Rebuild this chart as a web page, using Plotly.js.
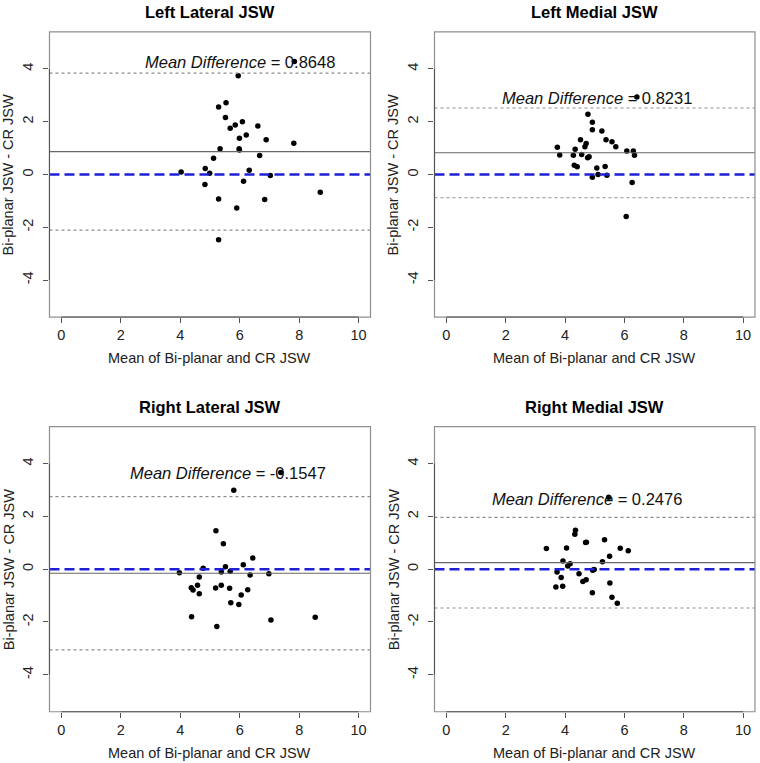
<!DOCTYPE html>
<html>
<head>
<meta charset="utf-8">
<script src="https://cdn.plot.ly/plotly-3.0.1.min.js"></script>
<style>
  html, body { margin: 0; padding: 0; background: #fff; }
  #chart { width: 760px; height: 763px; }
</style>
</head>
<body>
<div id="chart"></div>
<script>
// Bland-Altman agreement between bi-planar and CR joint space width (JSW)

const panelTitles = ["Left Lateral JSW", "Left Medial JSW", "Right Lateral JSW", "Right Medial JSW"];

// Mean of the two measurements (x) and their difference (y), per compartment
const leftLateralMean = [5.95, 5.29, 5.54, 5.52, 6.09, 5.85, 5.68, 6.61, 5.99, 6.22, 6.89, 7.82, 5.34, 5.98, 5.99,
  6.67, 5.12, 4.84, 6.32, 4.03, 4.99, 7.03, 6.13, 4.83, 8.71, 5.29, 6.84, 5.90, 5.29, 7.84];
const leftLateralDiff = [3.74, 2.56, 2.72, 2.16, 2.00, 1.88, 1.75, 1.84, 1.37, 1.50, 1.32, 1.18, 0.98, 0.98, 0.93,
  0.72, 0.62, 0.23, 0.16, 0.09, 0.05, -0.04, -0.26, -0.38, -0.67, -0.93, -0.95, -1.27, -2.47, 4.28];

const leftMedialMean = [4.77, 4.92, 4.92, 5.24, 4.52, 5.38, 5.58, 4.71, 4.67, 5.71, 3.74, 4.34, 6.08, 6.30, 6.34,
  3.82, 4.28, 4.56, 4.81, 4.76, 4.31, 4.41, 5.07, 5.35, 5.11, 5.41, 4.92, 6.26, 6.06, 6.42];
const leftMedialDiff = [2.28, 1.98, 1.70, 1.65, 1.32, 1.32, 1.24, 1.17, 1.05, 1.05, 1.03, 0.96, 0.89, 0.89, 0.73,
  0.74, 0.73, 0.76, 0.67, 0.63, 0.35, 0.29, 0.25, 0.30, 0.00, -0.03, -0.10, -0.30, -1.59, 2.94];

const rightLateralMean = [5.80, 5.20, 5.45, 6.44, 6.12, 5.52, 4.77, 3.97, 5.38, 5.68, 6.98, 6.35, 4.64, 4.58, 4.37,
  4.43, 4.64, 5.19, 5.38, 5.66, 6.27, 6.05, 5.70, 5.97, 4.38, 8.54, 7.05, 5.23, 7.38];
const rightLateralDiff = [2.99, 1.46, 0.96, 0.42, 0.17, 0.09, 0.04, -0.13, -0.11, -0.08, -0.17, -0.22, -0.30, -0.61, -0.70,
  -0.79, -0.93, -0.71, -0.61, -0.72, -0.78, -0.98, -1.27, -1.34, -1.80, -1.82, -1.92, -2.17, 3.66];

const rightMedialMean = [4.35, 4.33, 4.69, 5.33, 3.37, 4.05, 5.86, 6.13, 5.50, 3.93, 5.26, 4.17, 4.09, 4.98, 4.93,
  3.73, 4.47, 3.87, 4.71, 4.60, 5.51, 3.69, 3.92, 4.92, 5.58, 5.76, 5.47, 4.72];
const rightMedialDiff = [1.48, 1.32, 1.01, 1.12, 0.78, 0.80, 0.79, 0.70, 0.49, 0.31, 0.28, 0.21, 0.12, -0.01, -0.04,
  -0.11, -0.17, -0.31, -0.40, -0.47, -0.52, -0.67, -0.65, -0.89, -1.06, -1.29, 2.73, 1.02];

// Bias and 95% limits of agreement
const meanDifference = [0.8648, 0.8231, -0.1547, 0.2476];
const upperLimit = [3.84, 2.52, 2.75, 1.96];
const lowerLimit = [-2.11, -0.88, -3.06, -1.47];

const xTicks = [0, 2, 4, 6, 8, 10];
const yTicks = [-4, -2, 0, 2, 4];
const xAxisTitle = "Mean of Bi-planar and CR JSW";
const yAxisTitle = "Bi-planar JSW - CR JSW";

const seriesX = [leftLateralMean, leftMedialMean, rightLateralMean, rightMedialMean];
const seriesY = [leftLateralDiff, leftMedialDiff, rightLateralDiff, rightMedialDiff];

// ---- layout geometry ----
const FONT = "Liberation Sans, Arial, Helvetica, sans-serif";
const xDomains = [[0.0651, 0.4875], [0.5717, 0.9934], [0.0651, 0.4875], [0.5717, 0.9934]];
const yDomains = [[0.5845, 0.9581], [0.5845, 0.9581], [0.0672, 0.4408], [0.0672, 0.4408]];
// where each "Mean Difference" label sits, in data units
const labelAnchor = [[6.02, 4.26], [5.08, 2.91], [5.62, 3.66], [4.75, 2.67]];

const traces = [];
const shapes = [];
const annotations = [];
const layout = {
  width: 760, height: 763,
  margin: {l: 0, r: 0, t: 0, b: 0},
  paper_bgcolor: "#ffffff", plot_bgcolor: "#ffffff",
  showlegend: false,
  font: {family: FONT, color: "#222"},
  shapes: shapes,
  annotations: annotations
};

for (let i = 0; i < 4; i++) {
  const s = i === 0 ? "" : String(i + 1);
  const xa = "x" + s, ya = "y" + s;

  layout["xaxis" + s] = {
    domain: xDomains[i], anchor: ya, range: [-0.4, 10.4],
    tickmode: "array", tickvals: xTicks, ticktext: xTicks.map(String),
    ticks: "outside", ticklen: 5, tickwidth: 1, tickcolor: "#555",
    tickfont: {size: 14.5, family: FONT, color: "#222"},
    showline: false, showgrid: false, zeroline: false, fixedrange: true
  };
  layout["yaxis" + s] = {
    domain: yDomains[i], anchor: xa, range: [-5.4, 5.4],
    tickmode: "array", tickvals: yTicks, ticktext: yTicks.map(String),
    tickangle: -90, ticklabelstandoff: 5,
    ticks: "outside", ticklen: 5, tickwidth: 1, tickcolor: "#555",
    tickfont: {size: 14.5, family: FONT, color: "#222"},
    showline: false, showgrid: false, zeroline: false, fixedrange: true
  };

  traces.push({
    type: "scatter", mode: "markers", xaxis: xa, yaxis: ya,
    x: seriesX[i], y: seriesY[i],
    marker: {color: "#000", size: 5.5},
    hoverinfo: "x+y"
  });

  const xd = xa + " domain", yd = ya + " domain";
  // limits of agreement (dotted), bias (solid), zero reference (blue dashed)
  [upperLimit[i], lowerLimit[i]].forEach(v => shapes.push({
    type: "line", xref: xd, yref: ya, x0: 0, x1: 1, y0: v, y1: v,
    line: {color: "#8c8c8c", width: 1.2, dash: "3px,3px"}
  }));
  shapes.push({
    type: "line", xref: xd, yref: ya, x0: 0, x1: 1, y0: meanDifference[i], y1: meanDifference[i],
    line: {color: "#666", width: 1.1}
  });
  shapes.push({
    type: "line", xref: xd, yref: ya, x0: 0, x1: 1, y0: 0, y1: 0,
    line: {color: "#1f1fd6", width: 2.6, dash: "10px,5px"}
  });
  // plot frame
  shapes.push({
    type: "rect", xref: xd, yref: yd, x0: 0, x1: 1, y0: 0, y1: 1,
    line: {color: "#8f8f8f", width: 1.2}
  });
  // axis lines spanning the tick range
  shapes.push({
    type: "line", xref: xa, yref: yd, x0: xTicks[0], x1: xTicks[xTicks.length - 1], y0: 0, y1: 0,
    line: {color: "#555", width: 1.1}
  });
  shapes.push({
    type: "line", xref: xd, yref: ya, x0: 0, x1: 0, y0: yTicks[0], y1: yTicks[yTicks.length - 1],
    line: {color: "#555", width: 1.1}
  });

  annotations.push({
    xref: xa, yref: ya, x: labelAnchor[i][0], y: labelAnchor[i][1],
    text: "<i>Mean Difference</i> = " + meanDifference[i].toFixed(4),
    showarrow: false, xanchor: "center", yanchor: "middle",
    font: {size: 16.5, family: FONT, color: "#111"}
  });

  const cx = (xDomains[i][0] + xDomains[i][1]) / 2;
  const cy = (yDomains[i][0] + yDomains[i][1]) / 2;
  annotations.push({
    xref: "paper", yref: "paper", x: cx, y: yDomains[i][1], yshift: 20,
    text: "<b>" + panelTitles[i] + "</b>",
    showarrow: false, xanchor: "center", yanchor: "middle",
    font: {size: 16.5, family: FONT, color: "#000"}
  });
  annotations.push({
    xref: "paper", yref: "paper", x: cx, y: yDomains[i][0], yshift: -41,
    text: xAxisTitle, showarrow: false, xanchor: "center", yanchor: "middle",
    font: {size: 14.5, family: FONT, color: "#222"}
  });
  annotations.push({
    xref: "paper", yref: "paper", x: xDomains[i][0], xshift: -40.5, y: cy,
    text: yAxisTitle, textangle: -90, showarrow: false, xanchor: "center", yanchor: "middle",
    font: {size: 14.5, family: FONT, color: "#222"}
  });
}

Plotly.newPlot("chart", traces, layout, {displayModeBar: false, staticPlot: true});
</script>
</body>
</html>
